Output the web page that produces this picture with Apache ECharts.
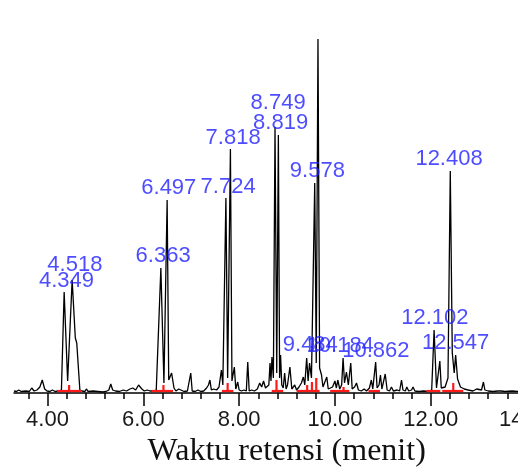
<!DOCTYPE html>
<html>
<head>
<meta charset="utf-8">
<script src="https://cdn.jsdelivr.net/npm/echarts@6/dist/echarts.min.js"></script>
<style>html,body{margin:0;padding:0;background:#fff}#c{width:518px;height:468px}</style>
</head>
<body>
<div id="c"></div>
<script>
// Chromatogram signal (retention time in min, detector response in relative units)
const signalTime = [3.30,3.35,3.40,3.45,3.55,3.62,3.67,3.72,3.78,3.84,3.89,3.94,3.99,4.05,4.10,4.16,4.22,4.29,4.347,4.42,4.514,4.58,4.61,4.675,4.72,4.78,4.81,4.85,4.95,5.05,5.15,5.22,5.28,5.32,5.36,5.42,5.50,5.58,5.65,5.72,5.78,5.84,5.90,5.93,5.97,6.02,6.08,6.14,6.20,6.27,6.366,6.43,6.497,6.53,6.59,6.64,6.68,6.74,6.78,6.85,6.92,6.96,6.99,7.02,7.08,7.14,7.20,7.26,7.32,7.36,7.39,7.42,7.47,7.53,7.58,7.63,7.66,7.724,7.76,7.818,7.85,7.90,7.93,7.97,8.00,8.05,8.10,8.15,8.18,8.21,8.26,8.32,8.38,8.43,8.47,8.51,8.55,8.62,8.645,8.665,8.685,8.715,8.749,8.785,8.819,8.845,8.865,8.89,8.92,8.95,8.98,9.01,9.06,9.10,9.16,9.20,9.25,9.30,9.34,9.37,9.41,9.44,9.47,9.51,9.578,9.61,9.646,9.68,9.72,9.75,9.78,9.83,9.86,9.90,9.95,10.00,10.03,10.06,10.10,10.14,10.17,10.20,10.24,10.28,10.33,10.36,10.41,10.45,10.49,10.55,10.61,10.66,10.72,10.76,10.79,10.85,10.88,10.92,10.95,10.98,11.02,11.05,11.09,11.14,11.18,11.22,11.30,11.35,11.39,11.42,11.47,11.50,11.54,11.60,11.63,11.67,11.75,11.85,11.95,12.02,12.07,12.12,12.15,12.19,12.22,12.30,12.36,12.408,12.45,12.49,12.52,12.56,12.62,12.70,12.78,12.88,12.96,13.00,13.06,13.10,13.13,13.20,13.30,13.40,13.43,13.47,13.55,13.70,13.85,14.00,14.20,14.40];
const signalHeight = [2,1.5,3,1.5,2,1.5,5,2,3,6,13,4,2,1.5,3,1.5,2,3,101,12,113,55,50,3,2,1.5,4,1.5,2,1.5,1,1.5,3,9,3,2,1.5,3,2,4,5,3,8,10,4,2,3,2,2,3,125,10,193,13,20,5,2,4,2,1.5,2,2,20,2,1.5,3,1.5,2,5,8,13,3,4,3,6,23,8,195,15,244,12,26,4,11,3,2,3,2,31,2,3,2,4,10,6,12,5,8,30,12,36,15,266,20,258,15,38,8,5,20,4,8,26,4,8,3,6,10,16,8,35,12,30,15,210,30,354,25,18,6,8,16,4,3,6,12,5,13,4,8,35,10,21,8,30,4,6,10,3,2,4,2,5,13,4,31,5,8,18,4,6,19,3,2,6,2,3,2,13,3,2,6,2,3,6,2,1.5,2,1.5,3,63,5,3,32,5,6,15,222,40,20,38,14,6,4,3,2,4,2,3,11,3,2,1.5,2,4,2,1.5,2,1.5,2,1.5,1.5];

// Peak annotations (retention time labels) and where their text sits
const peakNames = ['4.349','4.518','6.363','6.497','7.724','7.818','8.749','8.819','9.578','9.646','9.484','10.184','10.862','12.102','12.547','12.408'];
const peakLabelTime = [4.397,4.570,6.413,6.532,7.770,7.875,8.814,8.866,9.633,9.701,9.486,10.110,10.854,12.086,12.520,12.382];
const peakLabelHeight = [112.5,128.5,137.5,205,206,255.5,290,270.5,222.5,365.5,48,47,42,75.5,50.5,234];

// Integration baselines (red) and peak drop lines
const baseStart = [4.20,6.17,7.64,8.68,9.20,9.90,10.70,11.91,12.24];
const baseEnd   = [4.71,6.62,7.88,8.92,9.68,10.30,10.94,12.20,12.68];
const baseLevel = 2;
const dropTime   = [4.45,6.42,7.76,8.78,9.42,9.52,9.61,10.18,12.47];
const dropHeight = [6,6,8,11,6,9,13,4,8];

// Axis ticks
const majorTicks = [4,6,8,10,12,14];
const minorTicks = [3.6,4.4,4.8,5.2,5.6,6.4,6.8,7.2,7.6,8.4,8.8,9.2,9.6,10.4,10.8,11.2,11.6,12.4,12.8,13.2,13.6,14.4];

const chart = echarts.init(document.getElementById('c'), null, {renderer:'canvas'});

const signal = signalTime.map((t,i)=>[t, signalHeight[i]]);
const labels = peakNames.map((n,i)=>({name:n, value:[peakLabelTime[i], peakLabelHeight[i]]}));
const redItems = [];
baseStart.forEach((s,i)=>redItems.push([s, baseLevel, baseEnd[i], baseLevel]));
dropTime.forEach((t,i)=>redItems.push([t, baseLevel, t, baseLevel + dropHeight[i]]));

const xCommon = {
  type:'value', min:3.3, max:14.4, position:'bottom',
  splitLine:{show:false}, axisLine:{onZero:false}
};

chart.setOption({
  animation:false,
  backgroundColor:'#fff',
  grid:{left:14, top:33, width:531.7, height:360, containLabel:false, outerBoundsMode:'none'},
  xAxis:[
    Object.assign({}, xCommon, {
      axisLine:{show:true, onZero:false, lineStyle:{color:'#000', width:1.5}},
      axisTick:{show:true, inside:false, length:13, customValues:majorTicks, lineStyle:{color:'#000', width:1.5}},
      axisLabel:{show:true, customValues:majorTicks, margin:16, color:'#1a1a1a',
        fontFamily:'"Liberation Sans", Arial, sans-serif', fontSize:22,
        formatter:v=>Number(v).toFixed(2)}
    }),
    Object.assign({}, xCommon, {
      axisLine:{show:false, onZero:false},
      axisTick:{show:true, inside:false, length:6, customValues:minorTicks, lineStyle:{color:'#000', width:1.5}},
      axisLabel:{show:false}
    })
  ],
  yAxis:{type:'value', min:0, max:360, show:false, splitLine:{show:false}},
  series:[
    {
      type:'line', data:signal, xAxisIndex:0, showSymbol:false, symbol:'none',
      lineStyle:{color:'#000', width:1.3}, z:2, silent:true
    },
    {
      type:'custom', xAxisIndex:0, data:redItems, z:5, silent:true, clip:false,
      renderItem:(params, api)=>{
        const p1 = api.coord([api.value(0), api.value(1)]);
        const p2 = api.coord([api.value(2), api.value(3)]);
        return {type:'line', shape:{x1:p1[0], y1:p1[1], x2:p2[0], y2:p2[1]},
          style:{stroke:'#ff1a1a', lineWidth:2.2}};
      },
      encode:{x:[0,2], y:[1,3]}
    },
    {
      type:'scatter', xAxisIndex:0, data:labels, symbolSize:0, z:6, silent:true,
      label:{show:true, position:'inside', formatter:p=>p.name, color:'#2020ff',
        fontFamily:'"Liberation Sans", Arial, sans-serif', fontSize:22},
      labelLayout:{hideOverlap:false}
    }
  ],
  graphic:[{
    type:'text', silent:true,
    style:{x:286.7, y:452, text:'Waktu retensi (menit)', font:'32px "Liberation Serif", "Times New Roman", serif',
      textAlign:'center', textVerticalAlign:'middle', fill:'#111'}
  }]
});
</script>
</body>
</html>
